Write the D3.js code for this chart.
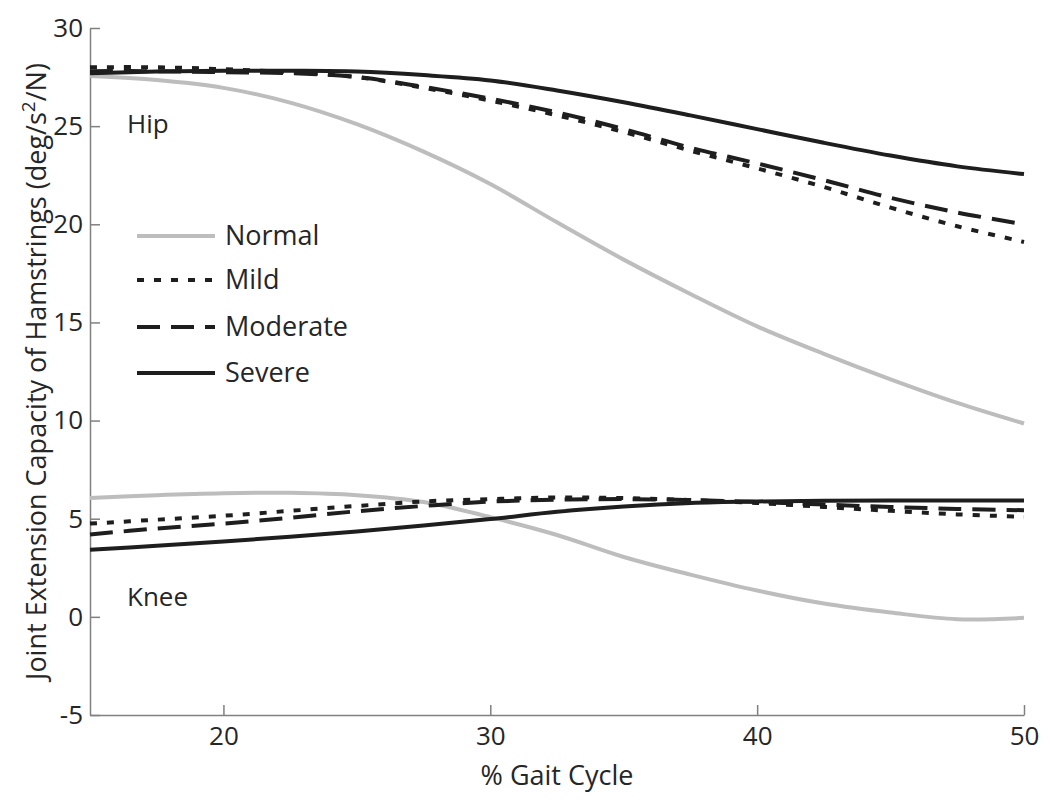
<!DOCTYPE html>
<html>
<head>
<meta charset="utf-8">
<script src="https://cdn.jsdelivr.net/npm/d3@7"></script>
<style>
  html, body { margin: 0; padding: 0; background: #fff; }
  svg { display: block; font-family: "Open Sans", "Noto Sans", sans-serif; }
</style>
</head>
<body>
<svg id="chart" width="1050" height="805"></svg>
<script>
// ---- data ----
const gaitCycle = [15, 17.5, 20, 22.5, 25, 27.5, 30, 32.5, 35, 37.5, 40, 42.5, 45, 47.5, 50];

const hipNormal   = [27.55, 27.35, 26.95, 26.2, 25.1, 23.7, 22.05, 20.1, 18.2, 16.45, 14.8, 13.4, 12.1, 10.9, 9.85];
const hipMild     = [28.0, 28.0, 27.9, 27.75, 27.5, 26.95, 26.3, 25.55, 24.7, 23.75, 22.85, 21.9, 20.85, 19.9, 19.1];
const hipModerate = [27.8, 27.8, 27.75, 27.7, 27.5, 27.0, 26.4, 25.7, 24.85, 23.9, 23.1, 22.25, 21.35, 20.6, 20.0];
const hipSevere   = [27.7, 27.78, 27.82, 27.82, 27.78, 27.6, 27.33, 26.82, 26.22, 25.55, 24.85, 24.15, 23.5, 22.95, 22.56];

const kneeNormal   = [6.05, 6.2, 6.3, 6.32, 6.2, 5.85, 5.08, 4.17, 3.05, 2.15, 1.34, 0.68, 0.22, -0.12, -0.05];
const kneeMild     = [4.75, 4.95, 5.15, 5.4, 5.65, 5.88, 6.0, 6.08, 6.05, 5.95, 5.8, 5.6, 5.4, 5.22, 5.1];
const kneeModerate = [4.2, 4.5, 4.75, 5.05, 5.38, 5.65, 5.87, 5.97, 6.0, 5.95, 5.85, 5.72, 5.6, 5.5, 5.43];
const kneeSevere   = [3.42, 3.62, 3.84, 4.08, 4.35, 4.65, 4.98, 5.35, 5.62, 5.8, 5.88, 5.92, 5.93, 5.93, 5.93];

const seriesNames = ["Normal", "Mild", "Moderate", "Severe"];
const xTicks = [20, 30, 40, 50];
const yTicks = [-5, 0, 5, 10, 15, 20, 25, 30];

// ---- styles ----
const styles = {
  Normal:   { color: "#bdbdbd", dash: null },
  Mild:     { color: "#1e1e1e", dash: "7,10" },
  Moderate: { color: "#1e1e1e", dash: "23,11" },
  Severe:   { color: "#1e1e1e", dash: null }
};

const svg = d3.select("#chart");
const margin = { left: 90, right: 26, top: 28, bottom: 90 };
const W = 1050, H = 805;

const x = d3.scaleLinear().domain([15, 50]).range([margin.left, W - margin.right]);
const y = d3.scaleLinear().domain([-5, 30]).range([H - margin.bottom, margin.top]);

const axisColor = "#808080";
const textColor = "#262626";
const fmt = d => String(d); // plain hyphen minus like the original

// axes
const xAxis = svg.append("g")
  .attr("transform", `translate(0,${H - margin.bottom})`)
  .call(d3.axisBottom(x).tickValues(xTicks).tickFormat(fmt).tickSizeInner(-10).tickSizeOuter(0).tickPadding(12));
const yAxis = svg.append("g")
  .attr("transform", `translate(${margin.left},0)`)
  .call(d3.axisLeft(y).tickValues(yTicks).tickFormat(fmt).tickSizeInner(-10).tickSizeOuter(0).tickPadding(7));

[xAxis, yAxis].forEach(g => {
  g.select(".domain").attr("stroke", axisColor).attr("stroke-width", 1.5);
  g.selectAll(".tick line").attr("stroke", axisColor).attr("stroke-width", 1.5);
  g.selectAll(".tick text").attr("fill", textColor).attr("font-size", 26)
    .attr("font-family", "'Open Sans', 'Noto Sans', sans-serif");
});
xAxis.selectAll(".tick text").attr("dy", "0.71em");

// lines
const line = d3.line()
  .x((d, i) => x(gaitCycle[i]))
  .y(d => y(d))
  .curve(d3.curveCatmullRom.alpha(0.5));

const plotSeries = [
  ["Normal", hipNormal], ["Normal", kneeNormal],
  ["Mild", hipMild], ["Mild", kneeMild],
  ["Moderate", hipModerate], ["Moderate", kneeModerate],
  ["Severe", hipSevere], ["Severe", kneeSevere]
];

svg.append("g").selectAll("path")
  .data(plotSeries)
  .join("path")
  .attr("d", d => line(d[1]))
  .attr("fill", "none")
  .attr("stroke", d => styles[d[0]].color)
  .attr("stroke-width", 4)
  .attr("stroke-dasharray", d => styles[d[0]].dash);

// annotations
svg.append("text").attr("x", 127).attr("y", 133).attr("font-size", 26).attr("fill", textColor).text("Hip");
svg.append("text").attr("x", 127).attr("y", 606).attr("font-size", 26).attr("fill", textColor).text("Knee");

// legend
const legend = svg.append("g");
const legendY = [236, 280, 327, 373];
seriesNames.forEach((name, i) => {
  legend.append("line")
    .attr("x1", 137).attr("x2", 215)
    .attr("y1", legendY[i]).attr("y2", legendY[i])
    .attr("stroke", styles[name].color)
    .attr("stroke-width", 4)
    .attr("stroke-dasharray", styles[name].dash);
  legend.append("text")
    .attr("x", 225).attr("y", legendY[i])
    .attr("dy", "0.35em")
    .attr("font-size", 27)
    .attr("fill", textColor)
    .text(name);
});

// axis titles
svg.append("text")
  .attr("x", (margin.left + W - margin.right) / 2)
  .attr("y", 785)
  .attr("text-anchor", "middle")
  .attr("font-size", 27)
  .attr("fill", textColor)
  .text("% Gait Cycle");

const yt = svg.append("text")
  .attr("transform", `translate(46,${(margin.top + H - margin.bottom) / 2}) rotate(-90)`)
  .attr("text-anchor", "middle")
  .attr("font-size", 27)
  .attr("fill", textColor);
yt.append("tspan").text("Joint Extension Capacity of Hamstrings (deg/s");
yt.append("tspan").attr("dy", -11).attr("font-size", 19).text("2");
yt.append("tspan").attr("dy", 11).text("/N)");
</script>
</body>
</html>
